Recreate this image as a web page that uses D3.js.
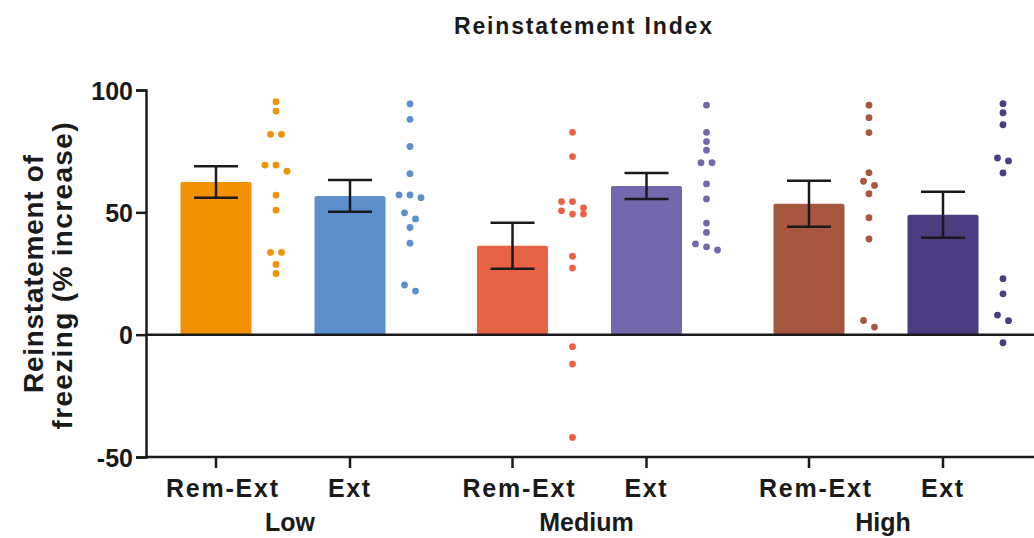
<!DOCTYPE html>
<html>
<head>
<meta charset="utf-8">
<script src="https://cdn.jsdelivr.net/npm/d3@7"></script>
<style>
  body { margin: 0; background: #fff; }
  svg text { font-family: "Liberation Sans", Arial, sans-serif; font-weight: bold; fill: #1a1a1a; }
</style>
</head>
<body>
<div id="chart"></div>
<script>
// data
var groups = ["Low", "Medium", "High"];
var treatments = ["Rem-Ext", "Ext"];
var yTicks = [-50, 0, 50, 100];

// bar means and SEM, order: Low R, Low E, Medium R, Medium E, High R, High E
var means = [62.4, 56.7, 36.3, 60.8, 53.5, 49.0];
var sems = [6.4, 6.5, 9.4, 5.3, 9.4, 9.4];

var lowRemExt = [95.2, 91.4, 81.9, 81.9, 69.3, 69.3, 66.8, 57.0, 50.9, 33.6, 33.6, 28.7, 25.0];
var lowExt = [94.3, 88.0, 76.9, 65.8, 57.1, 57.1, 56.0, 49.8, 47.3, 43.8, 37.4, 20.3, 17.8];
var medRemExt = [82.7, 72.8, 54.4, 54.4, 51.8, 50.6, 49.3, 49.3, 32.1, 27.2, -4.9, -12.0, -42.0];
var medExt = [93.8, 82.7, 78.9, 75.4, 70.3, 70.3, 61.6, 55.5, 45.6, 41.8, 37.1, 35.9, 34.6];
var highRemExt = [93.8, 88.7, 82.6, 66.2, 62.7, 61.0, 57.6, 47.8, 39.1, 5.8, 3.1];
var highExt = [94.4, 90.7, 85.8, 72.2, 71.0, 66.1, 22.9, 16.7, 8.0, 5.7, -3.3];

var points = [lowRemExt, lowExt, medRemExt, medExt, highRemExt, highExt];
var colors = ["#F39200", "#5E8FCD", "#E86246", "#7467AE", "#A8573F", "#4B3D80"];

var W = 1034, H = 538;
var barW = 71, dotOffset = 60, r = 3.4;

var svg = d3.select("#chart").append("svg")
    .attr("width", W)
    .attr("height", H);

var y = d3.scaleLinear().domain([-50, 100]).range([457, 90]);
var gx = d3.scaleLinear().domain([0, 2]).range([216, 809]);
var tx = d3.scalePoint().domain(treatments).range([0, 134]);

var cols = [];
groups.forEach(function (g, gi) {
    treatments.forEach(function (t, ti) {
        var i = gi * 2 + ti;
        cols.push({
            group: g, treat: t, cx: gx(gi) + tx(t),
            mean: means[i], sem: sems[i], pts: points[i], color: colors[i]
        });
    });
});

// simple row-based swarm for the scatter columns
function swarm(vals) {
    var sorted = vals.slice().sort(function (a, b) { return b - a; });
    var rows = [], cur = null;
    sorted.forEach(function (v) {
        if (cur && y(v) - y(cur[0]) <= 8) cur.push(v);
        else { cur = [v]; rows.push(cur); }
    });
    var out = [];
    rows.forEach(function (row) {
        var n = row.length;
        var step = n <= 3 ? 11 : 36 / (n - 1);
        row.forEach(function (v, i) { out.push({v: v, dx: (i - (n - 1) / 2) * step}); });
    });
    return out;
}

// bars
svg.selectAll("rect.bar")
    .data(cols)
    .enter()
    .append("rect")
    .attr("class", "bar")
    .attr("x", function (d) { return d.cx - barW / 2; })
    .attr("y", function (d) { return y(d.mean); })
    .attr("width", barW)
    .attr("height", function (d) { return y(0) - y(d.mean); })
    .attr("rx", 2)
    .attr("fill", function (d) { return d.color; });

// zero line
svg.append("line")
    .attr("x1", 146).attr("x2", W)
    .attr("y1", y(0)).attr("y2", y(0))
    .attr("stroke", "#1a1a1a").attr("stroke-width", 2.5);

// error bars
var eb = svg.selectAll("g.err").data(cols).enter().append("g").attr("class", "err")
    .attr("stroke", "#1a1a1a").attr("stroke-width", 2.5);
eb.append("line")
    .attr("x1", function (d) { return d.cx; }).attr("x2", function (d) { return d.cx; })
    .attr("y1", function (d) { return y(d.mean + d.sem); })
    .attr("y2", function (d) { return y(d.mean - d.sem); });
eb.append("line")
    .attr("x1", function (d) { return d.cx - 22; }).attr("x2", function (d) { return d.cx + 22; })
    .attr("y1", function (d) { return y(d.mean + d.sem); })
    .attr("y2", function (d) { return y(d.mean + d.sem); });
eb.append("line")
    .attr("x1", function (d) { return d.cx - 22; }).attr("x2", function (d) { return d.cx + 22; })
    .attr("y1", function (d) { return y(d.mean - d.sem); })
    .attr("y2", function (d) { return y(d.mean - d.sem); });

// scatter dots
cols.forEach(function (c) {
    svg.append("g").selectAll("circle")
        .data(swarm(c.pts))
        .enter()
        .append("circle")
        .attr("cx", function (d) { return c.cx + dotOffset + d.dx; })
        .attr("cy", function (d) { return y(d.v); })
        .attr("r", r)
        .attr("fill", c.color);
});

// y axis
var yAxis = svg.append("g")
    .attr("transform", "translate(146,0)")
    .call(d3.axisLeft(y).tickValues(yTicks).tickSize(10).tickPadding(3)
        .tickFormat(function (d) { return String(d); }));
yAxis.select(".domain").attr("stroke", "#1a1a1a").attr("stroke-width", 2.5);
yAxis.selectAll(".tick line").attr("stroke", "#1a1a1a").attr("stroke-width", 2.5);
yAxis.selectAll(".tick text").style("font-size", "25px").attr("dy", "0.36em");

// x axis
svg.append("line")
    .attr("x1", 146).attr("x2", W)
    .attr("y1", y(-50)).attr("y2", y(-50))
    .attr("stroke", "#1a1a1a").attr("stroke-width", 2.5);
svg.selectAll("line.xtick")
    .data(cols)
    .enter()
    .append("line")
    .attr("class", "xtick")
    .attr("x1", function (d) { return d.cx; }).attr("x2", function (d) { return d.cx; })
    .attr("y1", y(-50)).attr("y2", y(-50) + 11)
    .attr("stroke", "#1a1a1a").attr("stroke-width", 2.5);
svg.selectAll("text.xlab")
    .data(cols)
    .enter()
    .append("text")
    .attr("class", "xlab")
    .attr("x", function (d) { return d.cx + (d.treat === "Ext" ? -1 : 6); })
    .attr("y", 497)
    .attr("text-anchor", "middle")
    .style("font-size", "25px")
    .attr("textLength", function (d) { return d.treat === "Ext" ? 42 : 112; })
    .attr("lengthAdjust", "spacing")
    .text(function (d) { return d.treat; });
svg.selectAll("text.glab")
    .data(groups)
    .enter()
    .append("text")
    .attr("class", "glab")
    .attr("x", function (d, i) { return gx(i) + tx("Ext") / 2 + 7; })
    .attr("y", 531)
    .attr("text-anchor", "middle")
    .style("font-size", "25px")
    .text(function (d) { return d; });

// titles
svg.append("text")
    .attr("x", 583).attr("y", 34)
    .attr("text-anchor", "middle")
    .style("font-size", "23px")
    .attr("textLength", 258)
    .attr("lengthAdjust", "spacing")
    .text("Reinstatement  Index");

var yt = svg.append("g").attr("transform", "translate(0,274) rotate(-90)");
yt.append("text")
    .attr("x", 0).attr("y", 43)
    .attr("text-anchor", "middle")
    .style("font-size", "28px")
    .attr("textLength", 238)
    .attr("lengthAdjust", "spacing")
    .text("Reinstatement of");
yt.append("text")
    .attr("x", -2).attr("y", 72)
    .attr("text-anchor", "middle")
    .style("font-size", "28px")
    .attr("textLength", 307)
    .attr("lengthAdjust", "spacing")
    .text("freezing  (% increase)");
</script>
</body>
</html>
